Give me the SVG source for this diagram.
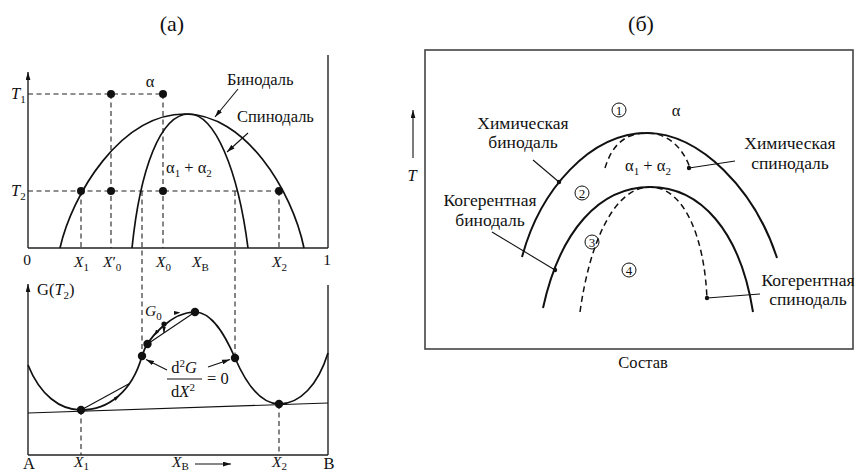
<svg xmlns="http://www.w3.org/2000/svg" width="856" height="473" viewBox="0 0 856 473" font-family="'Times New Roman', 'Liberation Serif', 'DejaVu Serif', serif">
<style>
  text { font-family: "Times New Roman", "Liberation Serif", Times, "DejaVu Serif", serif; fill: #111; }
  .t16 { font-size: 16.5px; }
  .t17 { font-size: 17.5px; }
  .t15 { font-size: 15.5px; }
  .it { font-style: italic; }
  .sub { font-size: 11px; }
  .axis { stroke: #222; stroke-width: 1.4; fill: none; }
  .curve { stroke: #111; stroke-width: 1.7; fill: none; }
  .thin { stroke: #111; stroke-width: 1.1; fill: none; }
  .dash { stroke: #222; stroke-width: 1.1; fill: none; stroke-dasharray: 5 3.5; }
  .dashc { stroke: #111; stroke-width: 1.5; fill: none; stroke-dasharray: 6 4; }
  .dot { fill: #111; }
  .circ { fill: none; stroke: #111; stroke-width: 1; }
</style>
<defs>
  <marker id="ah" viewBox="0 0 10 6" refX="10" refY="3" markerWidth="8" markerHeight="5" markerUnits="userSpaceOnUse" orient="auto">
    <path d="M0,0 L10,3 L0,6 Z" fill="#111"/>
  </marker>
  <marker id="ahs" viewBox="0 0 10 6" refX="10" refY="3" markerWidth="6.5" markerHeight="4" markerUnits="userSpaceOnUse" orient="auto">
    <path d="M0,0 L10,3 L0,6 Z" fill="#111"/>
  </marker>
</defs>

<rect width="856" height="473" fill="#fff"/>

<!-- ========== Panel (a) ========== -->
<g id="title-a"><text x="172" y="31" text-anchor="middle" style="font-size:22px">(a)</text></g>

<g id="top-axes">
  <line class="axis" x1="28" y1="248" x2="28" y2="72" marker-end="url(#ah)"/>
  <line class="axis" x1="28" y1="248" x2="328" y2="248"/>
  <line class="axis" x1="328" y1="248" x2="328" y2="55"/>
</g>

<g id="top-dashes">
  <line class="dash" x1="28" y1="94" x2="163" y2="94"/>
  <line class="dash" x1="28" y1="191" x2="279" y2="191"/>
  <line class="dash" x1="81" y1="191" x2="81" y2="248"/>
  <line class="dash" x1="111" y1="94" x2="111" y2="248"/>
  <line class="dash" x1="163" y1="94" x2="163" y2="248"/>
  <line class="dash" x1="279" y1="191" x2="279" y2="248"/>
  <line class="dash" x1="142" y1="191" x2="142" y2="356"/>
  <line class="dash" x1="235" y1="191" x2="235" y2="358"/>
</g>

<g id="binodal-a">
  <path class="curve" d="M60,248 C72,195 120,114 185,114 C245,114 292,190 304,248"/>
</g>
<g id="spinodal-a">
  <path class="curve" d="M132,248 C140,170 160,114 189,114 C215,114 238,170 248,248"/>
</g>

<g id="top-dots">
  <circle class="dot" cx="111" cy="94" r="4"/>
  <circle class="dot" cx="163" cy="94" r="4"/>
  <circle class="dot" cx="81" cy="191" r="4"/>
  <circle class="dot" cx="111" cy="191" r="4"/>
  <circle class="dot" cx="163" cy="191" r="4"/>
  <circle class="dot" cx="279" cy="191" r="4"/>
</g>

<g id="top-labels">
  <text class="t16" x="150" y="87" text-anchor="middle">α</text>
  <text class="t16" x="227" y="85">Бинодаль</text>
  <text class="t16" x="237" y="122">Спинодаль</text>
  <text class="t16" x="166" y="173">α<tspan dy="4" class="sub">1</tspan><tspan dy="-4"> + α</tspan><tspan dy="4" class="sub">2</tspan></text>
  <text class="t16" x="11" y="99"><tspan class="it">T</tspan><tspan dy="4" class="sub">1</tspan></text>
  <text class="t16" x="11" y="196"><tspan class="it">T</tspan><tspan dy="4" class="sub">2</tspan></text>
  <text class="t15" x="27" y="265" text-anchor="middle">0</text>
  <text class="t15" x="327" y="265" text-anchor="middle">1</text>
  <text class="t15" x="74" y="267"><tspan class="it">X</tspan><tspan dy="4" class="sub">1</tspan></text>
  <text class="t15" x="103" y="267"><tspan class="it">X</tspan><tspan>′</tspan><tspan dy="4" class="sub">0</tspan></text>
  <text class="t15" x="156" y="267"><tspan class="it">X</tspan><tspan dy="4" class="sub">0</tspan></text>
  <text class="t15" x="192" y="267"><tspan class="it">X</tspan><tspan dy="4" class="sub">B</tspan></text>
  <text class="t15" x="272" y="267"><tspan class="it">X</tspan><tspan dy="4" class="sub">2</tspan></text>
</g>

<g id="top-connectors">
  <line class="thin" x1="238" y1="89" x2="215" y2="117" marker-end="url(#ah)"/>
  <line class="thin" x1="248" y1="133" x2="227" y2="152" marker-end="url(#ah)"/>
</g>

<!-- bottom plot -->
<g id="bottom-axes">
  <line class="axis" x1="28" y1="455" x2="28" y2="284" marker-end="url(#ah)"/>
  <line class="axis" x1="28" y1="455" x2="328" y2="455"/>
  <line class="axis" x1="328" y1="455" x2="328" y2="285"/>
</g>

<g id="bottom-dashes">
  <line class="dash" x1="81" y1="410" x2="81" y2="455"/>
  <line class="dash" x1="279" y1="404" x2="279" y2="455"/>
</g>

<g id="g-curve">
  <path class="curve" d="M28,365 C40,395 60,410 81,410 C108,410 132,392 142,356 C147,338 172,312 195,312 C212,312 225,335 235,358 C248,388 262,404 279,404 C300,404 318,385 328,353"/>
  <line class="thin" x1="28" y1="413" x2="328" y2="403"/>
</g>

<g id="g-construction">
  <line class="thin" x1="81" y1="410" x2="129.5" y2="383.5"/>
  <line class="thin" x1="147.5" y1="344" x2="195" y2="312"/>
  <path d="M113,400.6 L119.5,395.2" stroke="none" fill="none" marker-end="url(#ahs)"/>
  <path d="M172,313.2 L180.5,312.4" stroke="none" fill="none" marker-end="url(#ahs)"/>
  <path d="M158.5,329.5 L154,336" stroke="none" fill="none" marker-end="url(#ahs)"/>
  <line class="thin" x1="164" y1="324" x2="164" y2="333" marker-end="url(#ahs)"/>
  <circle class="dot" cx="164" cy="324" r="2.6"/>
</g>

<g id="g-dots">
  <circle class="dot" cx="81" cy="410" r="4.2"/>
  <circle class="dot" cx="142" cy="356" r="4.2"/>
  <circle class="dot" cx="147.5" cy="344" r="4.2"/>
  <circle class="dot" cx="195" cy="312" r="4.2"/>
  <circle class="dot" cx="235" cy="358" r="4.2"/>
  <circle class="dot" cx="279" cy="404" r="4.2"/>
</g>

<g id="bottom-labels">
  <text class="t16" x="37" y="295">G(<tspan class="it">T</tspan><tspan dy="4" class="sub">2</tspan><tspan dy="-4">)</tspan></text>
  <text class="t15" x="145" y="316"><tspan class="it">G</tspan><tspan dy="4" class="sub">0</tspan></text>
  <text class="t16" x="184" y="373" text-anchor="middle">d<tspan dy="-6" class="sub">2</tspan><tspan dy="6" class="it">G</tspan></text>
  <line class="thin" x1="167" y1="379" x2="202" y2="379"/>
  <text class="t16" x="207" y="384">= 0</text>
  <text class="t16" x="183" y="397" text-anchor="middle">d<tspan class="it">X</tspan><tspan dy="-6" class="sub">2</tspan></text>
  <text class="t16" x="29" y="469" text-anchor="middle">A</text>
  <text class="t15" x="74" y="467"><tspan class="it">X</tspan><tspan dy="3" class="sub">1</tspan></text>
  <text class="t15" x="172" y="467"><tspan class="it">X</tspan><tspan dy="3" class="sub">B</tspan></text>
  <text class="t15" x="272" y="467"><tspan class="it">X</tspan><tspan dy="3" class="sub">2</tspan></text>
  <text class="t16" x="329" y="469" text-anchor="middle">B</text>
</g>

<g id="bottom-connectors">
  <line class="thin" x1="167" y1="370" x2="146" y2="359.5" marker-end="url(#ah)"/>
  <line class="thin" x1="208" y1="367" x2="230" y2="359.5" marker-end="url(#ah)"/>
  <line class="thin" x1="195" y1="464" x2="231" y2="464" marker-end="url(#ah)"/>
</g>

<!-- ========== Panel (б) ========== -->
<g id="title-b"><text x="641" y="31" text-anchor="middle" style="font-size:22px">(б)</text></g>

<g id="frame-b">
  <rect x="425" y="50" width="428" height="299" fill="none" stroke="#444" stroke-width="1.6"/>
  <line class="thin" x1="413" y1="158" x2="413" y2="110" marker-end="url(#ah)"/>
  <text class="t16 it" x="412" y="181" text-anchor="middle">T</text>
  <text class="t16" x="643" y="368" text-anchor="middle">Состав</text>
</g>

<g id="chem-binodal">
  <path class="curve" style="stroke-width:2" d="M522,257 C540,190 590,133 647,133 C700,133 755,190 777,258"/>
</g>
<g id="chem-spinodal">
  <path class="dashc" d="M605,168 C612,145 625,133 647,133 C668,133 683,148 690,168"/>
</g>
<g id="coh-binodal">
  <path class="curve" style="stroke-width:2" d="M543,308 C560,230 600,187 650,187 C700,187 740,230 753,312"/>
</g>
<g id="coh-spinodal">
  <path class="dashc" d="M580,312 C590,240 615,187 650,187 C685,187 705,240 707,300"/>
</g>

<g id="regions-b">
  <circle class="circ" cx="619" cy="110" r="7"/>
  <text x="619" y="114.5" text-anchor="middle" style="font-size:13px">1</text>
  <circle class="circ" cx="582" cy="193" r="7"/>
  <text x="582" y="197.5" text-anchor="middle" style="font-size:13px">2</text>
  <circle class="circ" cx="592" cy="242" r="7"/>
  <text x="592" y="246.5" text-anchor="middle" style="font-size:13px">3</text>
  <circle class="circ" cx="629" cy="270" r="7"/>
  <text x="629" y="274.5" text-anchor="middle" style="font-size:13px">4</text>
  <text class="t16" x="676" y="116" text-anchor="middle">α</text>
  <text class="t16" x="648" y="171" text-anchor="middle">α<tspan dy="4" class="sub">1</tspan><tspan dy="-4"> + α</tspan><tspan dy="4" class="sub">2</tspan></text>
</g>

<g id="labels-b">
  <text class="t17" x="523" y="129" text-anchor="middle">Химическая</text>
  <text class="t17" x="523" y="148" text-anchor="middle">бинодаль</text>
  <text class="t17" x="490" y="206" text-anchor="middle">Когерентная</text>
  <text class="t17" x="490" y="226" text-anchor="middle">бинодаль</text>
  <text class="t17" x="790" y="149" text-anchor="middle">Химическая</text>
  <text class="t17" x="790" y="169" text-anchor="middle">спинодаль</text>
  <text class="t17" x="808" y="286" text-anchor="middle">Когерентная</text>
  <text class="t17" x="808" y="305" text-anchor="middle">спинодаль</text>
</g>

<g id="leaders-b">
  <line class="thin" x1="533" y1="160" x2="559" y2="182"/>
  <circle class="dot" cx="559" cy="182" r="2.2"/>
  <line class="thin" x1="492" y1="232" x2="555" y2="270"/>
  <circle class="dot" cx="555" cy="270" r="2.2"/>
  <line class="thin" x1="689" y1="168" x2="735" y2="161"/>
  <circle class="dot" cx="689" cy="168" r="2.2"/>
  <line class="thin" x1="707" y1="298" x2="760" y2="294"/>
  <circle class="dot" cx="707" cy="298" r="2.2"/>
</g>
</svg>
